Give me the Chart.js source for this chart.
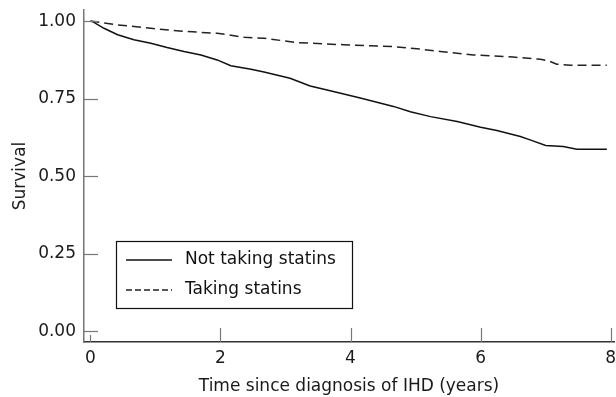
<!DOCTYPE html>
<html>
<head>
<meta charset="utf-8">
<script src="https://cdn.jsdelivr.net/npm/chart.js@4/dist/chart.umd.min.js"></script>
<style>
  html, body { margin: 0; padding: 0; background: #fff; }
  #wrap { width: 616px; height: 397px; }
</style>
</head>
<body>
<div id="wrap"><canvas id="chart"></canvas></div>
<script>
// Kaplan-Meier estimates
const notTakingYears = [0, 0.03, 0.21, 0.42, 0.67, 0.93, 1.18, 1.44, 1.70, 1.95, 2.16, 2.47, 2.67, 3.07, 3.38, 3.64, 4.15, 4.66, 4.92, 5.23, 5.64, 6.0, 6.25, 6.61, 6.76, 7.0, 7.27, 7.48, 7.94]
const notTakingSurvival = [1.0, 0.999, 0.977, 0.956, 0.940, 0.929, 0.915, 0.902, 0.891, 0.875, 0.856, 0.845, 0.836, 0.816, 0.791, 0.778, 0.752, 0.725, 0.708, 0.692, 0.676, 0.658, 0.647, 0.628, 0.617, 0.599, 0.596, 0.587, 0.587]

const takingYears = [0, 0.06, 0.42, 0.93, 1.44, 1.95, 2.37, 2.67, 3.17, 3.89, 4.66, 5.07, 5.38, 5.89, 6.5, 6.92, 7.07, 7.17, 7.38, 7.94]
const takingSurvival = [1.0, 0.999, 0.988, 0.977, 0.967, 0.961, 0.948, 0.945, 0.931, 0.924, 0.918, 0.910, 0.902, 0.891, 0.884, 0.877, 0.870, 0.861, 0.858, 0.858]

const xTicks = [0, 2, 4, 6, 8]
const yTicks = [0, 0.25, 0.5, 0.75, 1]

const seriesLabels = ["Not taking statins", "Taking statins"]

const toPoints = (xs, ys) => xs.map((x, i) => ({ x: x, y: ys[i] }))

const FONT = "DejaVu Sans"
const FONT_SIZE = 17

// inward tick marks like the original plot
const inwardTicks = {
  id: "inwardTicks",
  afterDraw(chart) {
    const ctx = chart.ctx
    const x = chart.scales.x
    const y = chart.scales.y
    ctx.save()
    ctx.strokeStyle = "#777"
    ctx.lineWidth = 1.2
    yTicks.forEach(v => {
      const py = Math.round(y.getPixelForValue(v)) + 0.5
      ctx.beginPath()
      ctx.moveTo(x.left, py)
      ctx.lineTo(x.left + 14, py)
      ctx.stroke()
    })
    xTicks.forEach(v => {
      const px = Math.round(x.getPixelForValue(v)) + 0.5
      const len = v === 0 ? 7 : 14
      ctx.beginPath()
      ctx.moveTo(px, y.bottom)
      ctx.lineTo(px, y.bottom - len)
      ctx.stroke()
    })
    ctx.restore()
  }
}

// boxed legend inside the plot area
const boxLegend = {
  id: "boxLegend",
  afterDraw(chart) {
    const ctx = chart.ctx
    const area = chart.chartArea
    const left = area.left + 32
    const top = area.top + 231
    const w = 236
    const h = 67
    ctx.save()
    ctx.strokeStyle = "#111"
    ctx.lineWidth = 1.2
    ctx.strokeRect(left + 0.5, top + 0.5, w, h)
    ctx.font = FONT_SIZE + "px '" + FONT + "'"
    ctx.fillStyle = "#111"
    ctx.textBaseline = "middle"
    chart.data.datasets.forEach((ds, i) => {
      const cy = top + 19 + i * 30
      ctx.beginPath()
      ctx.setLineDash(i === 0 ? [] : [6, 3])
      ctx.strokeStyle = ds.borderColor
      ctx.lineWidth = 1.3
      ctx.moveTo(left + 10, cy)
      ctx.lineTo(left + 56, cy)
      ctx.stroke()
      ctx.fillText(ds.label, left + 69, cy)
    })
    ctx.restore()
  }
}

new Chart(document.getElementById("chart"), {
  type: "line",
  data: {
    datasets: [
      {
        label: seriesLabels[0],
        data: toPoints(notTakingYears, notTakingSurvival),
        borderColor: "#111",
        borderWidth: 1.5,
        pointRadius: 0,
        tension: 0,
        fill: false
      },
      {
        label: seriesLabels[1],
        data: toPoints(takingYears, takingSurvival),
        borderColor: "#222",
        borderWidth: 1.5,
        borderDash: [9, 5],
        pointRadius: 0,
        tension: 0,
        fill: false
      }
    ]
  },
  options: {
    responsive: true,
    maintainAspectRatio: false,
    animation: false,
    layout: { padding: { top: 10, right: 2, left: 0, bottom: 0 } },
    plugins: {
      legend: { display: false },
      tooltip: { enabled: false }
    },
    scales: {
      x: {
        type: "linear",
        min: -0.097,
        max: 8.05,
        afterBuildTicks: s => { s.ticks = xTicks.map(v => ({ value: v })) },
        afterFit: s => {
          s.height = 55
          s.paddingLeft = 0
          s.paddingRight = 0
        },
        grid: { display: false, drawTicks: false },
        border: { color: "#333", width: 1.5 },
        ticks: {
          color: "#1a1a1a",
          font: { family: FONT, size: FONT_SIZE },
          padding: 6,
          maxRotation: 0,
          autoSkip: false
        },
        title: {
          display: true,
          text: "Time since diagnosis of IHD (years)",
          color: "#1a1a1a",
          font: { family: FONT, size: FONT_SIZE },
          padding: { top: 0, bottom: 0 }
        }
      },
      y: {
        type: "linear",
        min: -0.035,
        max: 1.036,
        afterBuildTicks: s => { s.ticks = yTicks.map(v => ({ value: v })) },
        afterFit: s => {
          s.width = 84
          s.paddingTop = 0
          s.paddingBottom = 0
        },
        grid: { display: false, drawTicks: false },
        border: { color: "#777", width: 1.5 },
        ticks: {
          color: "#1a1a1a",
          font: { family: FONT, size: FONT_SIZE },
          padding: 8,
          callback: v => v.toFixed(2)
        },
        title: {
          display: true,
          text: "Survival",
          color: "#1a1a1a",
          font: { family: FONT, size: FONT_SIZE },
          padding: { top: 10, bottom: 0 }
        }
      }
    }
  },
  plugins: [inwardTicks, boxLegend]
})
</script>
</body>
</html>
